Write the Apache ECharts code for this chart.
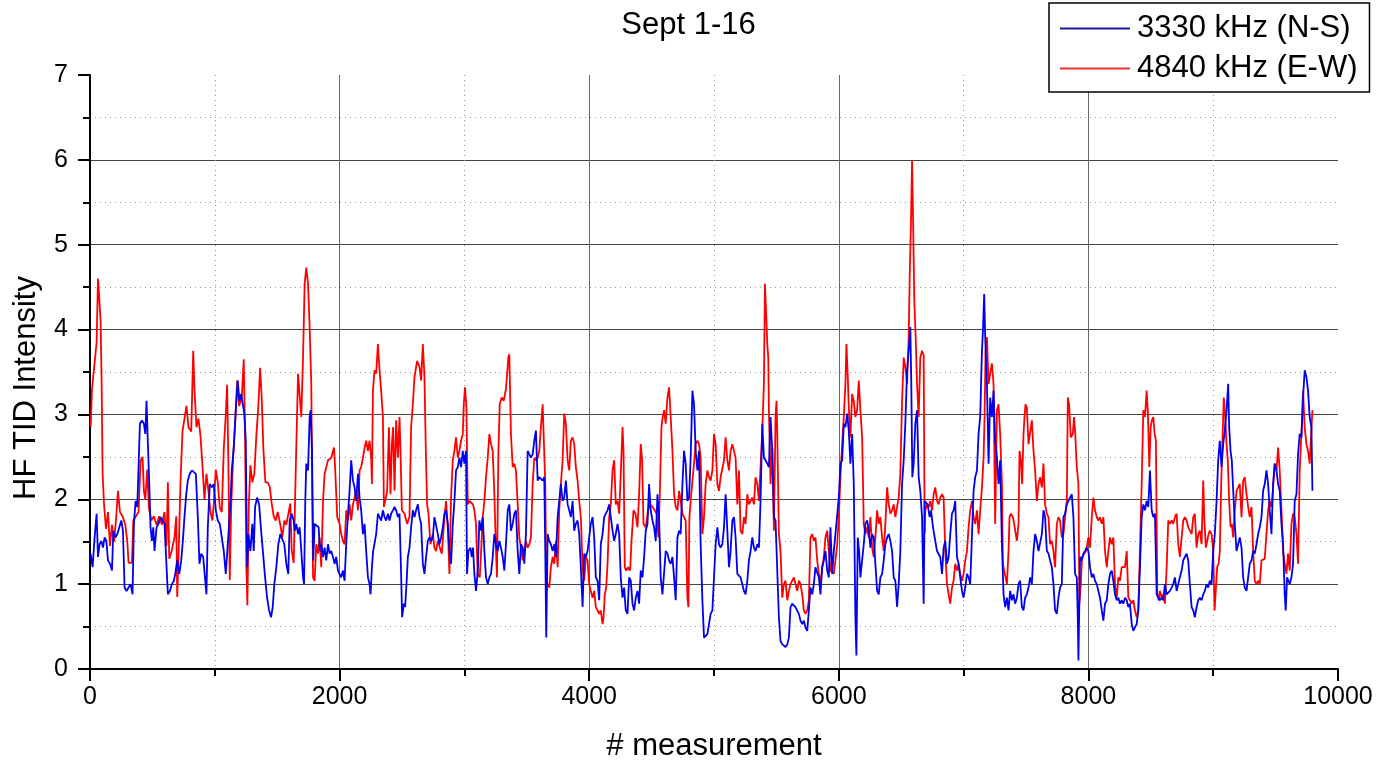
<!DOCTYPE html>
<html>
<head>
<meta charset="utf-8">
<title>Sept 1-16</title>
<script src="https://cdn.jsdelivr.net/npm/echarts@6/dist/echarts.min.js"></script>
<style>
  html, body { margin: 0; padding: 0; background: #fff; }
  #chart { width: 1377px; height: 767px; }
</style>
</head>
<body>
<div id="chart"></div>
<script>
// HF TID intensity per measurement, two receiver paths
const titleText = 'Sept 1-16';
const seriesNames = ['3330 kHz (N-S)', '4840 kHz (E-W)'];
const xTicks = [0, 2000, 4000, 6000, 8000, 10000];
const yTicks = [0, 1, 2, 3, 4, 5, 6, 7];

// [measurement, intensity] for 3330 kHz (N-S)
const nsPoints = [
  [5,1.36],[21,1.2],[37,1.55],[53,1.83],[64,1.32],[77,1.47],[91,1.51],[104,1.43],[117,1.55],[131,1.51],
  [144,1.28],[160,1.24],[176,1.16],[187,1.63],[203,1.55],[219,1.59],[235,1.59],[251,1.75],[264,1.63],[277,0.96],
  [293,0.92],[309,0.96],[325,1.0],[341,0.88],[352,1.71],[365,1.98],[379,1.91],[389,2.38],[400,2.89],[416,2.93],
  [432,2.89],[443,2.77],[453,3.16],[464,2.65],[475,2.18],[485,1.67],[496,1.51],[507,1.67],[517,1.39],[533,1.67],
  [549,1.71],[565,1.79],[581,1.75],[597,1.71],[613,1.71],[624,0.88],[640,0.92],[656,1.0],[672,1.04],[683,1.12],
  [699,1.28],[715,1.12],[731,1.28],[744,1.51],[757,1.79],[771,2.06],[784,2.22],[800,2.3],[816,2.34],[832,2.34],
  [848,2.3],[864,1.79],[877,1.24],[891,1.36],[907,1.32],[923,1.32],[933,0.88],[944,1.67],[960,2.18],[976,2.14],
  [992,2.18],[1008,1.87],[1024,1.75],[1040,1.71],[1056,1.55],[1072,1.39],[1088,1.12],[1099,1.36],[1115,1.36],[1125,1.94],
  [1136,2.34],[1152,2.61],[1168,3.05],[1184,3.4],[1197,3.16],[1211,3.24],[1224,3.12],[1237,3.01],[1248,2.69],[1259,1.2],
  [1269,1.59],[1285,1.39],[1301,1.71],[1312,1.39],[1323,1.91],[1339,2.02],[1355,1.94],[1371,1.63],[1387,1.36],[1403,1.08],
  [1419,0.84],[1435,0.69],[1451,0.61],[1464,0.73],[1477,1.0],[1493,1.2],[1509,1.47],[1525,1.59],[1541,1.59],[1557,1.47],
  [1573,1.24],[1589,1.12],[1600,1.75],[1616,1.83],[1632,1.75],
  [1640,1.63],[1653,1.71],[1667,1.59],[1680,1.67],[1693,1.39],[1707,1.08],[1715,1.0],[1725,1.98],[1733,2.42],[1747,2.34],
  [1760,2.97],[1768,3.05],[1779,2.57],[1789,1.28],[1800,1.71],[1816,1.71],[1832,1.67],[1843,1.39],[1853,1.47],[1867,1.32],
  [1880,1.43],[1893,1.28],[1907,1.47],[1920,1.36],[1933,1.39],[1947,1.32],[1960,1.24],[1973,1.32],[1987,1.16],[2000,1.12],
  [2013,1.08],[2027,1.16],[2040,1.04],[2053,1.47],[2067,1.83],[2080,2.1],[2093,2.46],[2107,2.22],[2120,2.14],[2133,1.98],
  [2147,2.3],[2160,2.02],[2173,1.87],[2187,1.59],[2200,1.71],[2213,1.39],[2227,1.08],[2240,1.0],[2248,0.88],[2259,1.2],
  [2269,1.39],[2280,1.39],[2293,1.59],[2307,1.83],[2320,1.79],[2333,1.75],[2347,1.87],[2360,1.79],[2373,1.75],[2387,1.83],
  [2400,1.75],[2413,1.83],[2427,1.87],[2440,1.91],[2453,1.87],[2467,1.79],[2480,1.83],[2493,1.12],[2501,0.61],[2515,0.77],
  [2525,0.73],[2536,1.0],[2547,1.32],[2560,1.43],[2573,1.67],[2587,1.87],[2600,1.79],[2613,1.87],[2627,1.94],[2640,1.79],
  [2653,1.71],[2667,1.24],[2680,1.12],[2693,1.32],[2707,1.51],[2720,1.55],[2733,1.51],[2747,1.55],[2760,1.79],[2773,1.79],
  [2787,1.59],[2800,1.47],[2813,1.55],[2827,1.67],[2840,1.83],[2853,1.87],[2867,1.71],[2880,1.39],[2893,1.24],[2907,1.71],
  [2920,1.98],[2933,2.34],[2947,2.38],[2960,2.49],[2973,2.38],[2987,2.57],[3000,2.42],[3013,2.57],[3021,1.12],[3032,1.39],
  [3048,1.43],[3059,1.32],[3069,1.43],[3080,1.12],[3093,0.92],[3107,1.16],[3120,1.75],[3133,1.63],[3147,1.79],[3160,1.39],
  [3173,1.08],[3187,1.0],[3200,1.08],[3213,1.12],[3227,1.32],[3240,1.59],[3253,1.47],[3267,1.39],[3280,1.51],[3293,1.43],
  [3307,1.32],
  [3320,1.16],[3333,1.47],[3347,1.87],[3360,1.94],[3373,1.63],[3387,1.71],[3400,1.83],[3413,1.87],[3427,1.39],[3440,1.12],
  [3453,1.47],[3467,1.43],[3480,1.24],[3493,1.59],[3507,2.57],[3520,2.57],[3533,2.49],[3547,2.53],[3560,2.69],[3573,2.81],
  [3587,2.22],[3600,2.26],[3613,2.26],[3627,2.22],[3640,2.26],[3648,1.39],[3656,0.37],[3667,1.59],[3680,1.51],[3693,1.47],
  [3707,1.39],[3720,1.47],[3733,1.32],[3747,1.79],[3760,1.98],[3773,2.18],[3787,1.98],[3800,2.02],[3813,2.22],[3827,1.94],
  [3840,1.87],[3853,1.79],[3867,1.98],[3880,1.63],[3893,1.71],[3907,1.75],[3920,1.59],[3933,1.2],[3947,0.73],[3960,1.36],
  [3973,1.32],[3987,1.39],[4000,1.55],[4013,1.71],[4027,1.79],[4040,1.55],[4053,1.08],[4067,1.04],[4080,0.81],[4093,1.47],
  [4107,1.59],[4120,1.79],[4133,1.83],[4147,1.87],[4160,1.94],[4173,1.79],[4187,1.63],[4200,1.51],[4213,1.59],[4227,1.71],
  [4240,1.59],[4253,1.08],[4267,0.84],[4280,0.96],[4293,0.69],[4307,0.65],[4320,1.08],[4333,1.04],[4347,0.77],[4360,0.69],
  [4373,0.84],[4387,0.92],[4400,0.77],[4413,1.16],[4427,1.08],[4440,1.32],[4453,1.63],[4467,1.71],[4480,2.18],[4493,1.87],
  [4507,1.75],[4520,1.67],[4533,1.51],[4547,2.06],[4560,1.79],[4573,1.08],[4587,0.88],[4600,0.88],[4613,1.39],[4627,1.36],
  [4640,1.28],[4653,1.24],[4667,1.32],[4680,1.08],[4693,0.81],[4707,1.55],[4720,1.63],[4733,1.59],[4747,2.18],[4760,2.57],
  [4773,2.42],[4787,1.98],[4800,2.02],[4813,2.49],[4827,3.28],[4840,3.12],[4853,2.57],[4867,2.34],[4880,2.57],[4893,1.47],
  [4907,0.81],[4920,0.37],[4933,0.37],[4947,0.41],[4960,0.53],[4973,0.65],[4987,0.69],
  [5000,0.69],[5013,1.47],[5027,1.67],[5040,1.47],[5053,1.43],[5067,1.47],[5080,1.67],[5093,2.06],[5107,1.63],[5120,1.2],
  [5133,1.39],[5147,1.75],[5160,1.79],[5173,1.55],[5187,1.12],[5200,1.12],[5213,1.08],[5227,1.08],[5240,0.92],[5253,0.88],
  [5267,1.04],[5280,1.28],[5293,1.39],[5307,1.55],[5320,1.43],[5333,1.39],[5347,1.47],[5360,1.43],[5373,1.98],[5387,2.89],
  [5400,2.49],[5413,2.46],[5427,2.42],[5440,2.38],[5453,2.97],[5467,2.57],[5480,1.79],[5493,1.75],[5507,1.75],[5520,0.61],
  [5533,0.33],[5547,0.29],[5560,0.29],[5573,0.26],[5587,0.29],[5600,0.37],[5613,0.73],[5627,0.77],[5640,0.77],[5653,0.73],
  [5667,0.73],[5680,0.65],[5693,0.57],[5707,0.53],[5720,0.57],[5733,0.49],[5747,0.45],[5760,0.69],[5773,0.96],[5787,0.88],
  [5800,1.0],[5813,1.2],[5827,1.2],[5840,1.08],[5853,0.88],[5867,1.2],[5880,1.28],[5893,1.39],[5907,1.16],[5920,1.08],
  [5933,1.67],[5947,1.12],[5960,1.39],[5973,1.59],[5987,1.59],[6000,2.02],[6013,2.42],[6027,2.46],[6040,2.89],[6053,2.85],
  [6067,3.01],[6080,2.81],[6093,2.42],[6107,2.77],[6120,2.18],[6133,0.61],[6141,0.16],[6152,1.55],[6163,1.39],[6173,1.08],
  [6187,1.08],[6200,1.47],[6213,1.71],[6227,1.75],[6240,1.63],[6253,1.43],[6267,1.59],[6280,1.55],[6293,1.24],[6307,0.92],
  [6320,0.88],[6333,1.08],[6347,1.12],[6360,1.28],[6373,1.47],[6387,1.55],[6400,1.59],[6413,1.51],[6427,1.39],[6440,1.08],
  [6453,1.04],[6467,0.73],[6480,1.0],[6493,1.39],[6507,2.18],[6520,2.46],[6533,2.89],[6547,3.52],[6560,3.75],[6573,4.03],
  [6581,3.36],[6589,2.26],[6600,2.42],[6613,2.89],[6627,3.05],[6640,2.26],[6653,2.1],[6667,1.79],
  [6680,0.77],[6688,1.98],[6701,1.98],[6712,1.94],[6728,1.79],[6739,1.87],[6755,1.67],[6773,1.51],[6787,1.39],[6800,1.39],
  [6813,1.32],[6827,1.12],[6840,1.43],[6853,1.51],[6867,1.24],[6880,1.32],[6893,1.59],[6907,1.83],[6920,1.87],[6933,1.98],
  [6947,1.32],[6960,1.24],[6973,1.08],[6987,0.92],[7000,0.84],[7013,0.96],[7027,1.12],[7040,1.08],[7053,1.0],[7067,1.0],
  [7080,2.1],[7093,2.26],[7107,2.34],[7120,2.77],[7133,2.97],[7147,3.75],[7155,3.99],[7165,4.42],[7173,3.91],[7187,3.36],
  [7200,2.42],[7213,3.2],[7227,2.97],[7240,3.28],[7253,2.69],[7267,2.49],[7280,2.18],[7293,2.46],[7307,1.47],[7320,0.88],
  [7333,0.73],[7347,0.84],[7360,0.69],[7373,0.92],[7387,0.81],[7400,0.88],[7413,0.77],[7427,0.84],[7440,1.0],[7453,1.04],
  [7467,0.73],[7480,0.69],[7493,0.84],[7507,0.88],[7520,0.96],[7533,1.08],[7547,1.0],[7560,1.39],[7573,1.59],[7587,1.51],
  [7600,1.39],[7613,1.39],[7627,1.59],[7640,1.87],[7653,1.79],[7667,1.39],[7680,1.36],[7693,1.28],[7707,1.2],[7720,1.0],
  [7733,0.69],[7747,0.65],[7760,0.84],[7773,0.96],[7787,1.0],[7800,1.79],[7813,1.83],[7827,1.94],[7840,1.98],[7853,2.02],
  [7867,2.06],[7880,1.79],[7893,1.12],[7907,1.08],[7915,0.61],[7920,0.1],[7928,0.1],[7933,1.32],[7947,1.28],[7960,1.36],
  [7973,1.39],[7987,1.43],[8000,1.39],[8013,1.2],[8027,1.08],[8040,1.12],[8053,1.04],[8067,1.0],[8080,0.92],[8093,0.84],
  [8107,0.69],[8120,0.57],[8133,0.77],[8147,0.81],[8160,1.0],[8173,1.12],[8187,1.16],[8200,1.04],[8213,0.88],[8227,0.81],
  [8240,0.84],[8253,0.77],[8267,0.81],[8280,0.77],[8293,0.84],[8307,0.81],[8320,0.73],[8333,0.77],[8347,0.53],
  [8360,0.45],[8373,0.49],[8387,0.53],[8400,0.69],[8413,1.2],[8427,1.79],[8440,1.94],[8453,1.87],[8467,1.98],[8480,1.91],
  [8493,2.34],[8507,1.87],[8520,1.79],[8533,1.83],[8547,0.88],[8560,0.84],[8573,0.81],[8587,0.84],[8600,0.81],[8613,1.0],
  [8627,0.88],[8640,0.88],[8653,0.92],[8667,0.96],[8680,1.0],[8693,1.08],[8707,0.92],[8720,1.0],[8733,1.08],[8747,1.16],
  [8760,1.28],[8773,1.32],[8787,1.36],[8800,1.28],[8813,1.0],[8827,0.73],[8840,0.69],[8853,0.61],[8867,0.73],[8880,0.81],
  [8893,0.84],[8907,0.81],[8920,0.88],[8933,0.92],[8947,1.0],[8960,0.96],[8973,1.04],[8987,1.0],[9000,1.39],[9013,1.59],
  [9027,1.98],[9040,2.46],[9053,2.69],[9067,2.38],[9080,2.65],[9093,2.81],[9107,3.05],[9120,3.36],[9128,2.85],[9139,2.57],
  [9149,2.46],[9160,2.46],[9173,1.71],[9187,1.39],[9200,1.47],[9213,1.55],[9227,1.43],[9240,1.08],[9253,0.96],[9267,0.92],
  [9280,1.08],[9293,1.24],[9307,1.28],[9320,1.39],[9333,1.36],[9347,1.47],[9360,1.59],[9373,1.67],[9387,1.79],[9400,2.1],
  [9413,2.18],[9427,2.34],[9440,2.18],[9453,1.87],[9467,1.59],[9480,2.18],[9493,2.42],[9507,2.34],[9520,2.18],[9533,2.1],
  [9547,1.71],[9560,1.47],[9573,0.88],[9581,0.69],[9592,1.08],[9603,1.04],[9613,1.0],[9627,1.08],[9640,1.24],[9653,1.98],
  [9667,2.06],[9680,2.53],[9693,2.77],[9707,2.73],[9720,3.2],[9733,3.52],[9747,3.44],[9760,3.28],[9773,2.97],[9787,2.85],
  [9795,2.1]
];

// [measurement, intensity] for 4840 kHz (E-W)
const ewPoints = [
  [5,2.85],[16,3.3],[32,3.3],[43,3.7],[53,3.85],[64,4.6],[75,4.35],[85,4.1],[93,3.4],[101,2.3],
  [112,1.95],[128,1.65],[144,1.85],[160,1.45],[176,1.7],[192,1.5],[208,1.75],[224,2.1],[240,1.85],[261,1.8],
  [283,1.7],[299,1.5],[309,1.25],[336,1.25],[347,1.75],[368,1.8],[389,1.85],[405,2.45],[421,2.5],[432,2.1],
  [443,2.0],[459,2.35],[472,1.9],[491,1.75],[512,1.8],[533,1.7],[555,1.8],[576,1.7],[597,1.85],[613,1.45],
  [624,2.2],[635,1.3],[656,1.4],[677,1.55],[691,1.8],[699,0.85],[709,1.3],[725,2.2],[741,2.8],[757,2.8],
  [773,3.1],[789,2.85],[811,2.8],[827,3.75],[837,3.3],[853,2.85],[869,2.95],[885,2.75],[901,2.4],[917,2.0],
  [933,2.3],[949,2.1],[965,1.85],[981,1.75],[992,1.95],[1008,2.35],[1024,2.2],[1040,1.9],[1056,1.85],[1072,2.6],
  [1088,3.0],[1099,3.35],[1109,2.4],[1120,1.05],[1131,1.9],[1147,2.5],[1163,2.9],[1179,3.4],[1195,3.1],[1216,3.2],
  [1232,3.65],[1243,2.7],[1253,1.2],[1261,0.75],[1272,1.9],[1285,2.4],[1301,2.2],[1317,2.3],[1333,2.75],[1349,3.1],
  [1363,3.55],[1376,3.2],[1389,2.6],[1405,2.2],[1424,2.2],[1440,2.15],[1456,1.95],[1472,1.8],[1488,1.75],[1504,1.85],
  [1525,1.7],[1541,1.55],[1557,1.75],[1573,1.7],[1592,1.85],[1605,1.95],[1616,1.4],[1632,1.25],
  [1648,2.3],[1667,3.48],[1693,2.97],[1707,3.67],[1720,4.54],[1733,4.73],[1747,4.54],[1760,4.03],[1773,3.36],[1787,1.08],
  [1800,1.04],[1813,1.47],[1827,1.36],[1840,1.55],[1853,1.2],[1867,1.98],[1880,2.3],[1907,2.46],[1933,2.49],[1955,2.61],
  [1965,2.34],[1981,1.79],[2000,1.71],[2013,1.59],[2027,1.51],[2040,1.47],[2053,1.87],[2067,1.75],[2080,1.94],[2093,1.75],
  [2107,1.94],[2120,2.02],[2133,2.1],[2147,1.87],[2160,2.34],[2173,2.38],[2187,2.49],[2200,2.61],[2213,2.69],[2227,2.57],
  [2240,2.69],[2253,2.49],[2259,2.18],[2267,3.28],[2280,3.52],[2293,3.48],[2307,3.83],[2320,3.52],[2333,3.28],[2347,2.97],
  [2355,1.91],[2365,1.98],[2381,2.1],[2395,2.85],[2408,2.06],[2419,2.65],[2429,2.85],[2440,2.1],[2453,2.93],[2467,2.49],
  [2480,2.97],[2488,2.57],[2499,1.87],[2520,1.83],[2541,1.71],[2560,1.79],[2573,2.85],[2587,3.12],[2600,3.44],[2621,3.63],
  [2640,3.56],[2653,3.4],[2667,3.83],[2680,3.44],[2691,2.57],[2701,1.94],[2712,1.83],[2728,1.47],[2747,1.59],[2760,1.43],
  [2773,1.39],[2787,1.51],[2803,1.43],[2819,1.36],[2840,1.79],[2853,1.98],[2867,1.67],[2880,1.12],[2893,2.02],[2907,2.46],
  [2920,2.57],[2933,2.73],[2947,2.49],[2960,2.57],[2973,2.69],[2987,2.77],[2995,3.12],[3005,3.32],[3016,3.08],[3027,1.94],
  [3040,1.98],[3053,1.98],[3069,1.94],[3080,1.87],[3093,1.71],[3107,1.12],[3123,1.08],[3133,1.36],[3147,1.79],[3160,1.98],
  [3173,2.26],[3187,2.49],[3200,2.77],[3213,2.65],[3227,2.57],[3240,2.06],[3253,1.39],[3261,1.08],[3272,2.53],[3283,3.12],
  [3299,3.2],[3315,3.16],
  [3333,3.3],[3352,3.67],[3360,3.71],[3373,2.77],[3387,2.38],[3400,2.42],[3413,2.34],[3427,1.94],[3440,1.55],[3453,1.43],
  [3467,1.28],[3480,1.39],[3493,1.51],[3507,1.43],[3520,1.47],[3533,1.55],[3547,2.18],[3560,2.49],[3573,2.46],[3587,2.49],
  [3600,2.57],[3613,2.85],[3627,3.12],[3640,3.12],[3648,2.18],[3656,1.04],[3667,1.04],[3680,0.96],[3693,1.2],[3707,1.32],
  [3720,1.24],[3733,1.51],[3747,1.2],[3760,1.87],[3773,2.18],[3787,2.46],[3800,3.01],[3813,2.89],[3827,2.46],[3840,2.34],
  [3853,2.69],[3867,2.73],[3880,2.65],[3893,2.38],[3907,2.22],[3920,1.98],[3933,1.79],[3947,1.2],[3960,1.04],[3973,1.32],
  [3987,1.28],[4000,1.0],[4013,0.92],[4027,0.84],[4040,0.92],[4053,0.73],[4067,0.69],[4080,0.65],[4093,0.69],[4107,0.53],
  [4115,0.61],[4125,0.88],[4136,0.96],[4147,1.24],[4160,1.79],[4173,1.94],[4187,2.34],[4200,2.46],[4213,1.94],[4227,1.98],
  [4240,1.83],[4253,2.3],[4267,2.85],[4275,2.57],[4285,1.2],[4296,1.16],[4312,1.2],[4328,1.16],[4339,1.51],[4355,1.87],
  [4371,1.83],[4387,1.67],[4400,2.06],[4413,2.65],[4424,2.46],[4435,1.71],[4453,1.67],[4472,1.87],[4488,1.94],[4507,1.91],
  [4525,1.87],[4541,1.83],[4555,1.55],[4568,2.18],[4579,2.85],[4589,2.97],[4600,3.05],[4613,2.89],[4627,3.2],[4640,3.32],
  [4653,2.97],[4667,2.57],[4680,2.06],[4693,1.91],[4707,1.87],[4720,2.1],[4733,1.98],[4747,1.83],[4760,1.79],[4773,1.75],
  [4787,0.84],[4795,0.73],[4803,1.79],[4813,1.98],[4827,2.22],[4840,2.42],[4853,2.65],[4867,2.69],[4880,2.65],[4893,2.49],
  [4907,1.59],[4920,1.79],[4933,2.18],[4947,2.34],[4960,2.26],[4973,2.22],[4987,2.34],
  [5000,2.77],[5013,2.65],[5027,2.18],[5040,2.1],[5053,2.26],[5067,2.26],[5080,2.46],[5093,2.73],[5107,2.46],[5120,2.34],
  [5133,2.57],[5147,2.65],[5160,2.57],[5173,2.49],[5187,1.94],[5200,2.34],[5213,1.63],[5227,1.59],[5240,1.79],[5253,1.71],
  [5267,2.06],[5280,1.94],[5293,1.94],[5307,2.02],[5320,1.94],[5333,2.26],[5347,2.18],[5360,1.98],[5373,1.98],[5387,2.81],
  [5400,3.36],[5408,4.54],[5419,4.15],[5427,3.83],[5435,3.67],[5440,3.05],[5453,2.18],[5467,2.61],[5480,1.63],[5493,2.97],
  [5501,3.16],[5507,2.77],[5520,1.59],[5533,1.39],[5547,0.84],[5560,1.0],[5573,1.04],[5587,0.81],[5600,0.92],[5613,1.0],
  [5627,1.0],[5640,1.08],[5653,1.0],[5667,0.92],[5680,1.04],[5693,1.0],[5707,0.88],[5720,0.69],[5733,0.65],[5747,0.69],
  [5760,0.81],[5773,1.55],[5787,1.59],[5800,1.51],[5813,1.55],[5827,1.28],[5840,1.12],[5853,1.0],[5867,1.2],[5880,1.32],
  [5893,1.55],[5907,1.63],[5920,1.39],[5933,1.16],[5947,1.16],[5960,1.12],[5973,1.28],[5987,1.47],[6000,1.79],[6013,2.26],
  [6027,2.65],[6040,2.97],[6053,3.36],[6061,3.83],[6072,3.44],[6080,3.08],[6093,2.73],[6107,3.24],[6120,3.16],[6133,2.97],
  [6147,3.05],[6160,3.4],[6173,3.05],[6187,2.73],[6200,1.71],[6213,1.59],[6227,1.67],[6240,1.55],[6253,1.79],[6267,1.43],
  [6280,1.32],[6293,1.55],[6307,1.87],[6320,1.71],[6333,1.79],[6347,1.55],[6360,1.39],[6373,1.71],[6387,2.14],[6400,1.94],
  [6413,1.83],[6427,1.87],[6440,1.94],[6453,1.79],[6467,1.91],[6480,2.02],[6493,2.3],[6507,3.16],[6520,3.67],[6533,3.56],
  [6547,3.36],[6560,3.91],[6568,4.62],[6579,5.32],[6587,5.99],[6595,5.32],[6605,4.34],[6616,3.91],[6627,3.36],[6640,2.97],
  [6653,3.67],[6667,3.75],
  [6680,3.7],[6688,1.6],[6693,1.87],[6707,1.94],[6720,1.91],[6733,1.98],[6747,1.87],[6760,2.06],[6773,2.14],[6787,1.98],
  [6800,1.94],[6813,2.02],[6827,2.06],[6840,2.02],[6853,1.39],[6867,1.0],[6880,0.88],[6893,0.77],[6907,0.96],[6920,1.04],
  [6933,1.24],[6947,1.16],[6960,1.24],[6973,1.12],[6987,1.04],[7000,1.12],[7013,1.28],[7027,1.39],[7040,1.67],[7053,1.87],
  [7067,1.98],[7080,1.79],[7093,1.71],[7107,1.87],[7120,1.59],[7133,1.87],[7147,2.14],[7160,2.49],[7168,2.97],[7176,3.75],
  [7187,3.91],[7200,3.36],[7213,3.48],[7227,3.6],[7240,3.36],[7253,1.71],[7267,3.05],[7280,3.12],[7293,2.77],[7307,2.18],
  [7315,1.24],[7325,1.16],[7336,1.08],[7347,1.0],[7360,1.39],[7368,1.79],[7379,1.83],[7395,1.79],[7405,1.71],[7416,1.71],
  [7427,1.51],[7440,1.71],[7448,2.57],[7459,2.46],[7469,2.18],[7480,2.77],[7488,2.97],[7496,3.12],[7507,3.08],[7520,2.65],
  [7533,2.65],[7547,2.93],[7560,2.57],[7573,2.34],[7587,1.98],[7600,2.18],[7613,2.26],[7627,2.14],[7640,2.42],[7653,1.94],
  [7667,1.83],[7680,1.79],[7693,1.47],[7707,1.51],[7720,1.39],[7733,1.2],[7747,1.71],[7760,1.79],[7773,1.75],[7787,1.55],
  [7800,1.59],[7813,1.79],[7827,1.98],[7835,3.2],[7845,3.12],[7859,2.73],[7875,2.77],[7885,2.97],[7893,2.81],[7907,2.38],
  [7920,2.18],[7928,0.77],[7939,1.0],[7949,1.32],[7965,1.32],[7981,1.39],[8000,1.55],[8013,1.43],[8027,1.79],[8040,2.02],
  [8053,1.87],[8067,1.79],[8080,1.75],[8093,1.79],[8107,1.71],[8120,1.79],[8133,1.39],[8147,1.2],[8160,1.39],[8173,1.55],
  [8187,1.47],[8200,1.55],[8213,1.0],[8227,0.84],[8240,1.08],[8253,1.04],[8267,1.2],[8280,1.2],[8293,1.2],[8307,1.39],
  [8320,0.84],[8333,0.81],[8347,0.77],
  [8360,0.81],[8373,0.69],[8387,0.61],[8400,0.69],[8413,1.39],[8427,2.18],[8440,3.05],[8453,2.97],[8467,3.28],[8477,3.01],
  [8488,2.38],[8499,2.85],[8509,2.93],[8520,2.97],[8531,2.77],[8541,2.69],[8552,0.88],[8563,0.81],[8573,0.92],[8587,0.84],
  [8600,0.88],[8613,0.77],[8627,1.2],[8640,1.75],[8653,1.71],[8667,1.75],[8680,1.71],[8693,1.79],[8707,1.83],[8720,1.47],
  [8733,1.32],[8747,1.55],[8760,1.75],[8773,1.79],[8787,1.75],[8800,1.67],[8813,1.63],[8827,1.59],[8840,1.79],[8853,1.83],
  [8867,1.43],[8880,1.59],[8893,1.63],[8907,1.47],[8920,2.22],[8928,1.79],[8941,1.43],[8952,1.51],[8963,1.59],[8973,1.63],
  [8987,1.59],[9000,1.39],[9011,0.69],[9021,0.69],[9032,1.2],[9043,1.24],[9053,1.39],[9064,2.18],[9075,2.73],[9085,3.2],
  [9096,2.97],[9107,2.65],[9117,2.46],[9128,1.98],[9139,1.67],[9149,1.71],[9160,1.55],[9173,1.87],[9187,2.1],[9200,2.14],
  [9213,2.18],[9227,1.79],[9240,2.22],[9253,2.26],[9267,2.06],[9280,1.91],[9293,1.79],[9307,1.91],[9320,1.39],[9333,1.04],
  [9347,1.0],[9360,1.04],[9373,1.0],[9387,1.28],[9400,1.28],[9413,1.3],[9427,1.32],[9440,1.87],[9453,1.98],[9467,1.91],
  [9480,2.14],[9493,2.42],[9507,2.34],[9520,2.61],[9533,2.34],[9547,1.87],[9560,1.39],[9573,1.24],[9587,1.12],[9600,1.36],
  [9613,1.16],[9627,1.71],[9640,1.83],[9653,1.79],[9667,1.59],[9680,1.24],[9693,2.34],[9707,2.77],[9720,3.28],[9733,2.85],
  [9747,2.65],[9760,2.57],[9773,2.42],[9787,2.4],[9795,3.05]
];

const FONT = '"Liberation Sans", Arial, sans-serif';
const chart = echarts.init(document.getElementById('chart'), null, { renderer: 'canvas' });

chart.setOption({
  animation: false,
  backgroundColor: '#ffffff',
  title: {
    text: titleText,
    left: 'center',
    top: 5,
    textStyle: { fontFamily: FONT, fontSize: 31, fontWeight: 'normal', color: '#000' }
  },
  legend: {
    data: [
      { name: seriesNames[0], icon: 'rect', itemStyle: { color: '#1a1aa0' } },
      { name: seriesNames[1], icon: 'rect', itemStyle: { color: '#e83030' } }
    ],
    orient: 'vertical',
    left: 1049,
    top: 3,
    padding: [10, 12, 8, 11],
    itemGap: 9,
    itemWidth: 70,
    itemHeight: 2,
    borderColor: '#000',
    borderWidth: 1.5,
    backgroundColor: '#fff',
    textStyle: { fontFamily: FONT, fontSize: 31, color: '#000', padding: [0, 0, 0, 2], lineHeight: 31, height: 31 }
  },
  grid: { left: 90, right: 39, top: 75, bottom: 98, containLabel: false },
  xAxis: {
    type: 'value',
    min: xTicks[0],
    max: xTicks[xTicks.length - 1],
    interval: xTicks[1] - xTicks[0],
    name: '# measurement',
    nameLocation: 'middle',
    nameGap: 62,
    nameTextStyle: { fontFamily: FONT, fontSize: 31, color: '#000' },
    axisLine: { onZero: false, lineStyle: { color: '#000', width: 2 } },
    axisTick: { show: true, inside: false, length: 12, lineStyle: { color: '#000', width: 2 } },
    minorTick: { show: true, splitNumber: 2, length: 7, lineStyle: { color: '#000', width: 2 } },
    axisLabel: { fontFamily: FONT, fontSize: 25, color: '#000', margin: 16, formatter: (v) => String(v) },
    splitLine: { show: true, showMinLine: false, showMaxLine: false, lineStyle: { color: '#666', width: 1 } },
    minorSplitLine: { show: true, lineStyle: { color: '#999', width: 1, type: [1, 4] } }
  },
  yAxis: {
    type: 'value',
    min: yTicks[0],
    max: yTicks[yTicks.length - 1],
    interval: yTicks[1] - yTicks[0],
    axisLine: { show: true, onZero: false, lineStyle: { color: '#000', width: 2 } },
    axisTick: { show: true, inside: false, length: 12, lineStyle: { color: '#000', width: 2 } },
    minorTick: { show: true, splitNumber: 2, length: 7, lineStyle: { color: '#000', width: 2 } },
    axisLabel: { fontFamily: FONT, fontSize: 25, color: '#000', margin: 22, formatter: (v) => String(v) },
    splitLine: { show: true, showMinLine: false, showMaxLine: false, lineStyle: { color: '#444', width: 1 } },
    minorSplitLine: { show: true, lineStyle: { color: '#999', width: 1, type: [1, 4] } }
  },
  graphic: [{
    type: 'text',
    x: 26,
    y: 388,
    rotation: Math.PI / 2,
    style: {
      text: 'HF TID Intensity',
      font: '31px ' + FONT,
      fill: '#000',
      align: 'center',
      verticalAlign: 'middle'
    }
  }],
  series: [
    {
      name: seriesNames[1],
      type: 'line',
      data: ewPoints,
      symbol: 'none',
      color: '#ff0000',
      lineStyle: { color: '#ff0000', width: 1.8 },
      z: 2
    },
    {
      name: seriesNames[0],
      type: 'line',
      data: nsPoints,
      symbol: 'none',
      color: '#0000ee',
      lineStyle: { color: '#0000ee', width: 1.8 },
      z: 3
    }
  ]
});
</script>
</body>
</html>
